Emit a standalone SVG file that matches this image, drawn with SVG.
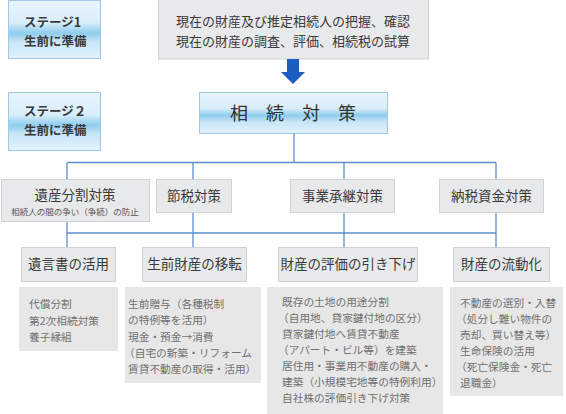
<svg xmlns="http://www.w3.org/2000/svg" width="566" height="414" viewBox="0 0 566 414">
<defs>
<linearGradient id="blueg" x1="0" y1="0" x2="0" y2="1">
<stop offset="0" stop-color="#e7f4fc"/>
<stop offset="0.38" stop-color="#d9eefa"/>
<stop offset="0.56" stop-color="#8fcdee"/>
<stop offset="0.72" stop-color="#c9e6f7"/>
<stop offset="1" stop-color="#e2f2fc"/>
</linearGradient>
<style>
.jp{font-family:"Noto Sans CJK JP","Noto Sans",sans-serif;}
.stage{fill:url(#blueg);stroke:#a3c8e6;stroke-width:1;}
.stxt{font-size:12.5px;font-weight:bold;fill:#383838;}
.gbox{fill:#e8e9ea;stroke:#d2d3d4;stroke-width:1;}
.dbox{fill:#e7e7e8;stroke:none;}
.head{font-size:13.5px;fill:#3a3a3a;text-anchor:middle;}
.sub{font-size:8.5px;fill:#555;text-anchor:middle;}
.body{font-size:10.7px;fill:#707070;}
.top{font-size:13px;fill:#3a3a3a;}
.con{stroke:#5b8fcf;stroke-width:1.3;fill:none;}
</style>
</defs>
<rect width="566" height="414" fill="#ffffff"/>

<g id="stage1">
<rect class="stage" x="8.5" y="0.5" width="92" height="58"/>
<text class="jp stxt"><tspan x="24" y="26.5">ステージ1</tspan><tspan x="24" y="45.5">生前に準備</tspan></text>
</g>

<g id="stage2">
<rect class="stage" x="8.5" y="92.5" width="92" height="58"/>
<text class="jp stxt"><tspan x="24" y="116">ステージ２</tspan><tspan x="24" y="135">生前に準備</tspan></text>
</g>

<g id="current">
<rect class="gbox" x="158.5" y="-1" width="270" height="60"/>
<text class="jp top"><tspan x="176" y="26">現在の財産及び推定相続人の把握、確認</tspan><tspan x="176" y="45.5">現在の財産の調査、評価、相続税の試算</tspan></text>
</g>

<g id="arrow">
<path d="M287 59 H299 V72 H305 L293 84 L281 72 H287 Z" fill="#1b5fc1"/>
</g>

<g id="souzoku">
<rect class="stage" x="199.5" y="92.5" width="188" height="41"/>
<text class="jp" x="230" y="120" font-size="18" letter-spacing="18" fill="#333">相続対策</text>
</g>

<g id="connectors">
<path class="con" d="M294 133.5 V162.5 M67 162.5 H496 M67 162.5 V179 M193 162.5 V179 M344 162.5 V179 M496 162.5 V179"/>
<path class="con" d="M67 222 V247 M193 212 V247 M344 212 V247 M496 212 V247 M67 233 H496"/>
</g>

<g id="isan">
<rect class="gbox" x="1.5" y="179.5" width="148" height="42"/>
<text class="jp head" x="75" y="200">遺産分割対策</text>
<text class="jp sub" x="75" y="214.5">相続人の間の争い（争続）の防止</text>
</g>
<g id="setsuzei">
<rect class="gbox" x="156.5" y="179.5" width="75" height="33"/>
<text class="jp head" x="194" y="201">節税対策</text>
</g>
<g id="jigyo">
<rect class="gbox" x="290.5" y="179.5" width="104" height="33"/>
<text class="jp head" x="342.5" y="201">事業承継対策</text>
</g>
<g id="nozei">
<rect class="gbox" x="439.5" y="179.5" width="104" height="33"/>
<text class="jp head" x="491.5" y="201">納税資金対策</text>
</g>

<g id="yuigon">
<rect class="gbox" x="21.5" y="247.5" width="94" height="34"/>
<text class="jp head" x="68.5" y="269">遺言書の活用</text>
</g>
<g id="iten">
<rect class="gbox" x="142.5" y="247.5" width="104" height="34"/>
<text class="jp head" x="194.5" y="269">生前財産の移転</text>
</g>
<g id="hyoka">
<rect class="gbox" x="278.5" y="247.5" width="139" height="34"/>
<text class="jp head" x="348" y="269">財産の評価の引き下げ</text>
</g>
<g id="ryudo">
<rect class="gbox" x="453.5" y="247.5" width="96" height="34"/>
<text class="jp head" x="501.5" y="269">財産の流動化</text>
</g>

<g id="d1">
<rect class="dbox" x="19" y="287" width="99" height="64"/>
<text class="jp body"><tspan x="29" y="308">代償分割</tspan><tspan x="29" y="324.5">第2次相続対策</tspan><tspan x="29" y="341">養子縁組</tspan></text>
</g>
<g id="d2">
<rect class="dbox" x="125" y="287" width="136" height="96"/>
<text class="jp body"><tspan x="128" y="308">生前贈与（各種税制</tspan><tspan x="128" y="324.3">の特例等を活用）</tspan><tspan x="128" y="340.6">現金・預金→消費</tspan><tspan x="124" y="356.9">（自宅の新築・リフォーム</tspan><tspan x="128" y="373.2">賃貸不動産の取得・活用）</tspan></text>
</g>
<g id="d3">
<rect class="dbox" x="267" y="287" width="176" height="127"/>
<text class="jp body"><tspan x="282" y="306">既存の土地の用途分割</tspan><tspan x="278" y="322">（自用地、貸家鍵付地の区分）</tspan><tspan x="282" y="338">貸家鍵付地へ賃貸不動産</tspan><tspan x="278" y="354">（アパート・ビル等）を建築</tspan><tspan x="282" y="370">居住用・事業用不動産の購入・</tspan><tspan x="282" y="386">建築（小規模宅地等の特例利用）</tspan><tspan x="282" y="402">自社株の評価引き下げ対策</tspan></text>
</g>
<g id="d4">
<rect class="dbox" x="450" y="287" width="113" height="109"/>
<text class="jp body"><tspan x="460" y="307">不動産の選別・入替</tspan><tspan x="456" y="323">（処分し難い物件の</tspan><tspan x="460" y="339">売却、買い替え等）</tspan><tspan x="460" y="355">生命保険の活用</tspan><tspan x="456" y="371">（死亡保険金・死亡</tspan><tspan x="460" y="387">退職金）</tspan></text>
</g>
</svg>
